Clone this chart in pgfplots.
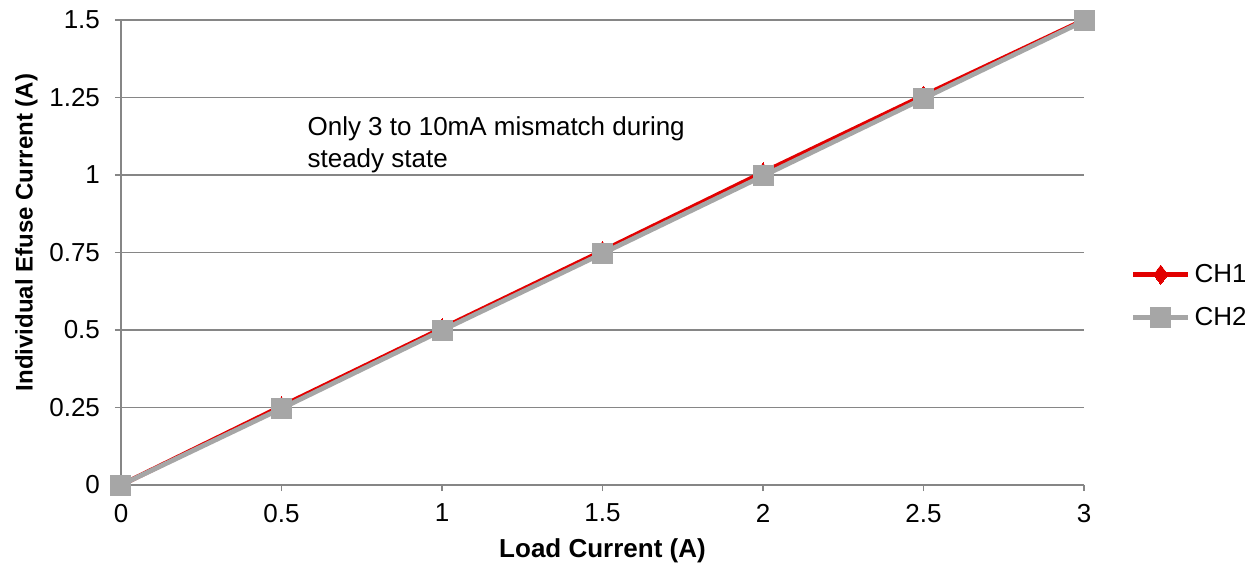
\documentclass[border=0pt]{standalone}
\usepackage{fontspec}
\setmainfont{Liberation Sans}
\usepackage{pgfplots}
\pgfplotsset{compat=1.18}
\definecolor{chred}{RGB}{226,0,0}
\definecolor{chgray}{RGB}{166,166,166}
\definecolor{gridgray}{RGB}{134,134,134}
\begin{document}
\begin{tikzpicture}
\useasboundingbox (-60.5pt,-42pt) rectangle (562pt,242.5pt);
\begin{axis}[
    scale only axis,
    width=481.5pt, height=232.5pt,
    xmin=0, xmax=3, ymin=0, ymax=1.5,
    axis x line=bottom, axis y line=left,
    axis line style={-, draw=gridgray, line width=0.6pt},
    xtick={0,0.5,1,1.5,2,2.5,3},
    ytick={0,0.25,0.5,0.75,1,1.25,1.5},
    yticklabels={0,0.25,0.5,0.75,1,1.25,1.5},
    xticklabels={0,0.5,1,1.5,2,2.5,3},
    tick align=outside, major tick length=3pt,
    tick style={draw=gridgray, line width=0.6pt},
    ymajorgrids, grid style={draw=gridgray, line width=0.6pt},
    tick label style={font=\fontsize{13}{15}\selectfont},
    /pgf/number format/assume math mode=true,
    xticklabel style={yshift=-3pt},
    yticklabel style={xshift=-4pt},
    xlabel={\textbf{Load Current (A)}},
    ylabel={\textbf{Individual Efuse Current (A)}},
    xlabel style={font=\fontsize{13}{15}\selectfont, yshift=-1pt},
    ylabel style={font=\fontsize{12}{14}\selectfont, at={(ticklabel cs:0.543)}, yshift=-1pt},
    clip=false,
    legend style={at={(1.042,0.406)}, anchor=west, draw=none, fill=none,
        font=\fontsize{13}{15}\selectfont, row sep=7pt,
        /tikz/every even column/.append style={column sep=0pt}},
    legend cell align=left,
    legend image code/.code={
        \draw[#1] (0pt,0pt) -- (27.5pt,0pt);
        \draw[#1, mark repeat=2, mark phase=2] plot coordinates {(0pt,0pt) (13.75pt,0pt) (27.5pt,0pt)};
    },
]
\addplot[chred, line width=2.4pt, mark=diamond*, mark size=4.8pt,
    mark options={fill=chred, draw=chred, line width=0pt}]
    coordinates {(0,0) (0.5,0.254) (1,0.505) (1.5,0.755) (2,1.008) (2.5,1.256) (3,1.5)};
\addlegendentry{CH1}
\addplot[chgray, line width=2.4pt, mark=square*, mark size=5pt,
    mark options={fill=chgray, draw=chgray, line width=0pt}]
    coordinates {(0,0) (0.5,0.247) (1,0.499) (1.5,0.747) (2,0.997) (2.5,1.247) (3,1.497)};
\addlegendentry{CH2}
\node[anchor=north west, align=left, font=\fontsize{13}{16}\selectfont, inner sep=0pt]
    at (axis cs:0.58,1.19) {Only 3 to 10mA mismatch during\\steady state};
\end{axis}
\end{tikzpicture}
\end{document}
